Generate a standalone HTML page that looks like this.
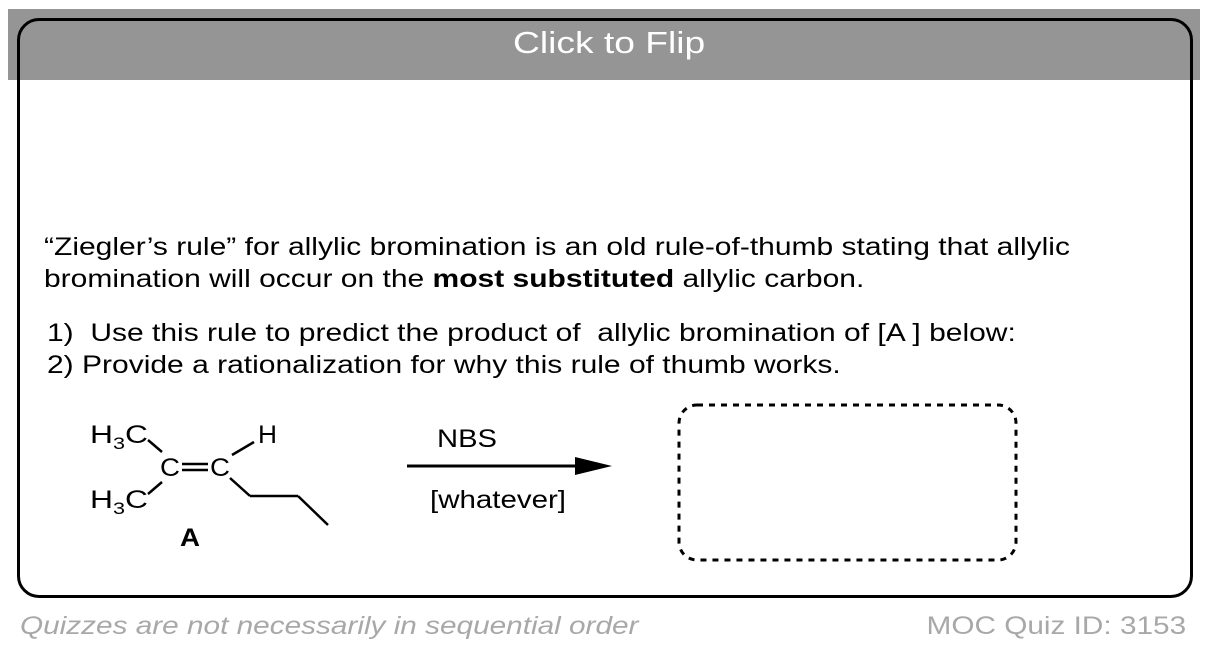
<!DOCTYPE html>
<html><head><meta charset="utf-8"><style>
body{margin:0;width:1212px;height:656px;background:#fff;position:relative;overflow:hidden;font-family:"Liberation Sans",Arial,sans-serif;}
.card{position:absolute;left:17px;top:18px;width:1176px;height:580px;border:3px solid #000;border-radius:22px;box-sizing:border-box;z-index:2;}
.bar{position:absolute;left:8px;top:9px;width:1192px;height:71px;background:#959595;}
.bt{position:absolute;left:513px;top:25px;color:#fff;font-size:31px;transform:scaleX(1.2);transform-origin:left;white-space:nowrap;}
.t{position:absolute;font-size:25px;color:#000;white-space:nowrap;transform:scaleX(1.2);transform-origin:left;}
.f{position:absolute;font-size:25px;color:#a8a8a8;white-space:nowrap;transform:scaleX(1.19);}
</style></head><body>
<div class="bar"></div>
<div class="bt">Click to Flip</div>
<div class="card"></div>
<div class="t" style="left:44px;top:233px;">“Ziegler’s rule” for allylic bromination is an old rule-of-thumb stating that allylic</div>
<div class="t" style="left:44px;top:265px;">bromination will occur on the <b>most substituted</b> allylic carbon.</div>
<div class="t" style="left:47px;top:319px;">1)&nbsp; Use this rule to predict the product of&nbsp; allylic bromination of [A ] below:</div>
<div class="t" style="left:47px;top:351px;">2) Provide a rationalization for why this rule of thumb works.</div>
<svg width="1212" height="656" style="position:absolute;left:0;top:0" font-family="Liberation Sans,Arial,sans-serif">
<g font-size="25" fill="#000">
<text x="90" y="443" textLength="58" lengthAdjust="spacingAndGlyphs">H<tspan font-size="17" dy="6">3</tspan><tspan dy="-6">C</tspan></text>
<text x="90" y="508" textLength="58" lengthAdjust="spacingAndGlyphs">H<tspan font-size="17" dy="6">3</tspan><tspan dy="-6">C</tspan></text>
<text x="160" y="476" textLength="20" lengthAdjust="spacingAndGlyphs">C</text>
<text x="210" y="476" textLength="20" lengthAdjust="spacingAndGlyphs">C</text>
<text x="258" y="443" textLength="19" lengthAdjust="spacingAndGlyphs">H</text>
<text x="180" y="546" font-weight="bold" textLength="20" lengthAdjust="spacingAndGlyphs">A</text>
<text x="437" y="447" textLength="60" lengthAdjust="spacingAndGlyphs">NBS</text>
<text x="430" y="508" textLength="136" lengthAdjust="spacingAndGlyphs">[whatever]</text>
</g>
<g stroke="#000" stroke-width="2.5" fill="none">
<line x1="148" y1="440" x2="162" y2="452"/>
<line x1="148" y1="494" x2="162" y2="482"/>
<line x1="182" y1="464" x2="208" y2="464"/>
<line x1="182" y1="470" x2="208" y2="470"/>
<line x1="232" y1="455" x2="254" y2="442"/>
<line x1="230" y1="478" x2="250" y2="496"/>
<line x1="250" y1="496" x2="298" y2="496"/>
<line x1="298" y1="496" x2="328" y2="525"/>
<line x1="407" y1="466" x2="590" y2="466" stroke-width="3"/>
<rect x="679" y="405" width="337" height="155" rx="18" stroke-width="3" stroke-dasharray="6,6"/>
</g>
<polygon points="575,457 612,466 575,475" fill="#000"/>
</svg>
<div class="f" style="left:20px;top:612px;font-style:italic;transform-origin:left;">Quizzes are not necessarily in sequential order</div>
<div class="f" style="right:26px;top:612px;transform-origin:right;">MOC Quiz ID: 3153</div>
</body></html>
